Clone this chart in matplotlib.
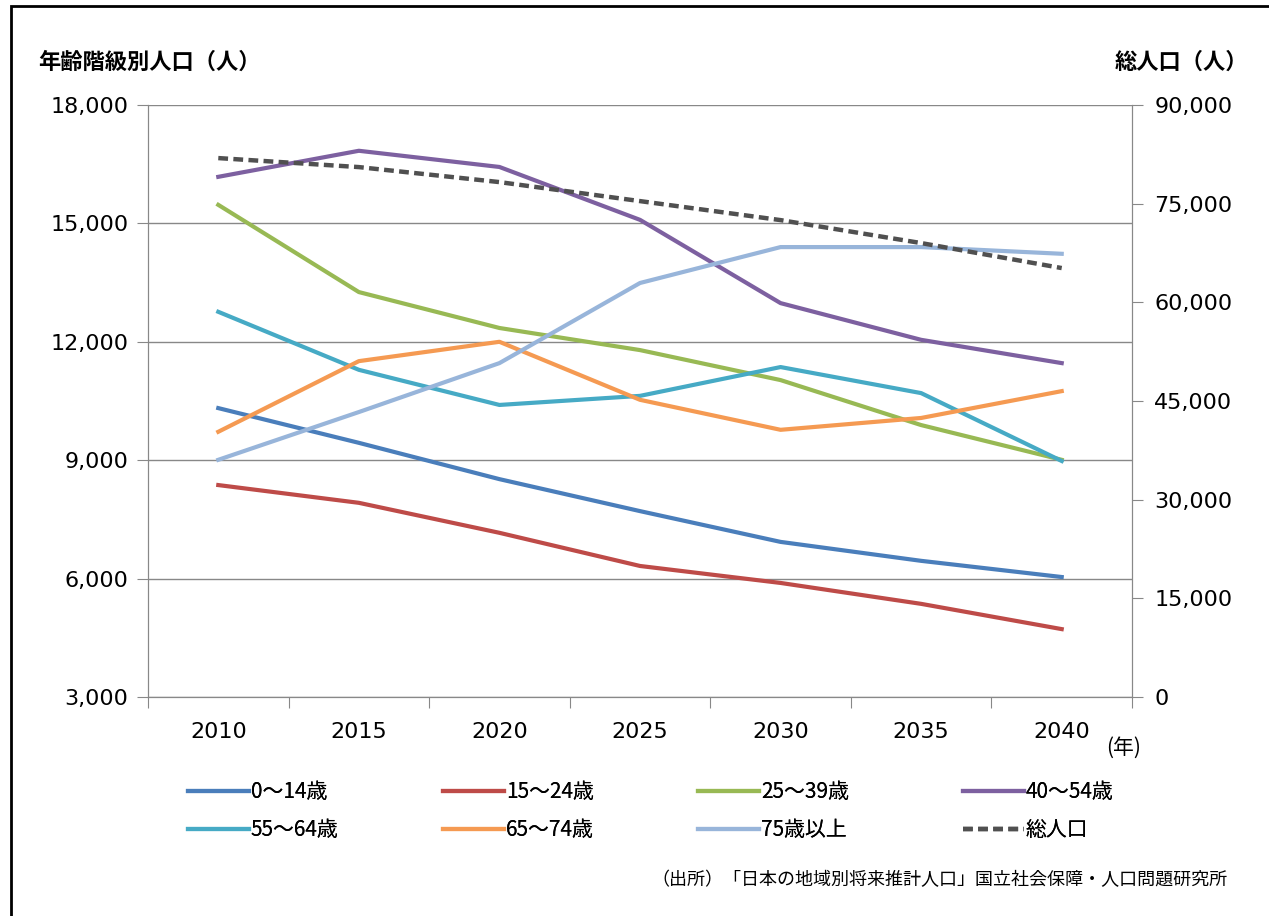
import matplotlib
matplotlib.use("Agg")
import matplotlib.pyplot as plt
from matplotlib.patches import Rectangle

plt.rcParams['font.family'] = ['Noto Sans CJK JP', 'DejaVu Sans']

# ---- data ----
years = ["2010", "2015", "2020", "2025", "2030", "2035", "2040"]
age_0_14 = [10320, 9440, 8520, 7710, 6930, 6450, 6040]
age_15_24 = [8370, 7920, 7160, 6320, 5890, 5360, 4720]
age_25_39 = [15470, 13260, 12350, 11790, 11030, 9890, 9010]
age_40_54 = [16180, 16840, 16430, 15090, 12980, 12050, 11460]
age_55_64 = [12760, 11290, 10400, 10630, 11360, 10700, 8980]
age_65_74 = [9720, 11510, 12000, 10530, 9770, 10070, 10750]
age_75_up = [9010, 10220, 11460, 13490, 14400, 14400, 14230]
total_pop = [81930, 80560, 78280, 75390, 72500, 69010, 65210]

series = [
    ("0～14歳", age_0_14, "#4A7EBB"),
    ("15～24歳", age_15_24, "#BE4B48"),
    ("25～39歳", age_25_39, "#98B954"),
    ("40～54歳", age_40_54, "#7D60A0"),
    ("55～64歳", age_55_64, "#46AAC5"),
    ("65～74歳", age_65_74, "#F59A52"),
    ("75歳以上", age_75_up, "#98B5DA"),
]

W, H = 1269, 916
fig = plt.figure(figsize=(W / 100, H / 100), dpi=100)
ax = fig.add_axes([148 / W, 1 - 697 / H, (1132 - 148) / W, (697 - 105) / H])
ax2 = ax.twinx()

x = list(range(len(years)))
handles = []
for name, vals, col in series:
    h, = ax.plot(x, vals, color=col, lw=3, label=name, zorder=3)
    handles.append(h)
ht, = ax2.plot(x, total_pop, color="#505050", lw=3.2, ls=(0, (2.2, 1.2)), label="総人口", zorder=3)
handles.append(ht)

num_font = "DejaVu Sans"
axis_col = "#888888"
ax.set_xlim(-0.5, len(years) - 0.5)
ax.set_ylim(3000, 18000)
ax.set_yticks(range(3000, 18001, 3000))
ax.set_yticklabels([f"{v:,}" for v in range(3000, 18001, 3000)], fontfamily=num_font)
ax.grid(axis="y", color=axis_col, lw=1)
ax.set_axisbelow(True)

ax.set_xticks([i - 0.5 for i in range(len(years) + 1)])
ax.set_xticklabels([])
ax.set_xticks(x, minor=True)
ax.set_xticklabels(years, minor=True, fontfamily=num_font)
ax.tick_params(axis="x", which="major", length=8, color=axis_col, direction="out")
ax.tick_params(axis="x", which="minor", length=0, pad=18, labelsize=16)
ax.tick_params(axis="y", length=8, color=axis_col, labelsize=16, pad=6)

ax2.set_ylim(0, 90000)
ax2.set_yticks(range(0, 90001, 15000))
ax2.set_yticklabels([f"{v:,}" for v in range(0, 90001, 15000)], fontfamily=num_font)
ax2.tick_params(axis="y", length=8, color=axis_col, labelsize=16, pad=8)

for a in (ax, ax2):
    a.spines["top"].set_visible(False)
    for s in ("left", "right", "bottom"):
        a.spines[s].set_color(axis_col)

fig.text(38 / W, 1 - 62 / H, "年齢階級別人口（人）", fontsize=16, fontweight="bold", va="center")
fig.text(1248 / W, 1 - 62 / H, "総人口（人）", fontsize=16, fontweight="bold", va="center", ha="right")
fig.text(1106 / W, 1 - 748 / H, "(年)", fontsize=15, va="center")

# legend: 4 columns x 2 rows, filled row-wise
col_x = [180, 435, 690, 955]
for c in range(4):
    leg = fig.legend(handles=[handles[c], handles[c + 4]], loc="upper left",
                     bbox_to_anchor=(col_x[c] / W, 1 - 773 / H), frameon=False,
                     fontsize=15, handlelength=2.9, handletextpad=0.1,
                     labelspacing=0.75, borderaxespad=0)
    fig.add_artist(leg)

fig.text(1228 / W, 1 - 880 / H, "（出所）「日本の地域別将来推計人口」国立社会保障・人口問題研究所",
         fontsize=13, ha="right", va="center")

fig.add_artist(Rectangle((11 / W, -0.05), 1.2, 1.05 - 6 / H, transform=fig.transFigure,
                         fill=False, edgecolor="black", lw=2))

fig.savefig("out.png", dpi=100)
